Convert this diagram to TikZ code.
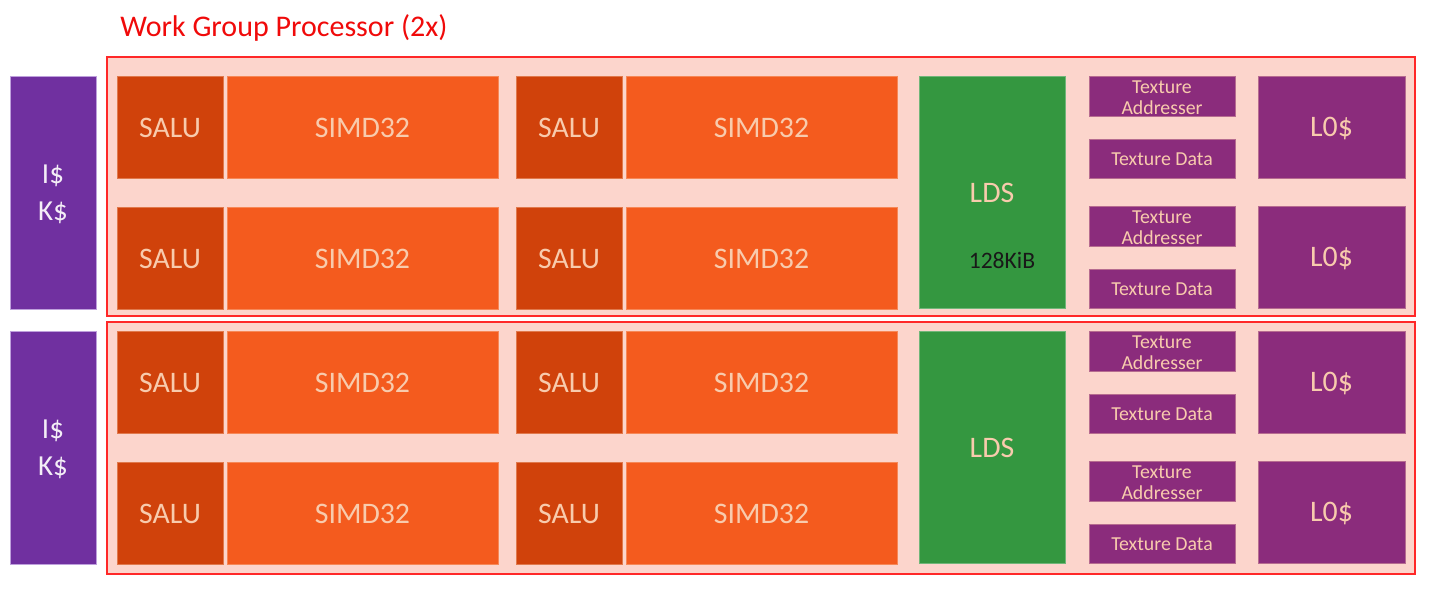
\documentclass[tikz,border=0pt]{standalone}
\usepackage{fontspec}
\setmainfont{Carlito}
\definecolor{salu}{RGB}{208,66,11}
\definecolor{simd}{RGB}{244,91,30}
\definecolor{peach}{RGB}{248,203,173}
\definecolor{ikpurple}{RGB}{112,48,160}
\definecolor{lpurple}{RGB}{139,44,124}
\definecolor{ldsgreen}{RGB}{52,151,64}
\definecolor{framefill}{RGB}{252,213,204}
\definecolor{framered}{RGB}{255,40,40}
\definecolor{titlered}{RGB}{240,10,10}
\definecolor{ikedge}{RGB}{190,160,220}
\begin{document}
\begin{tikzpicture}[x=0.5pt,y=-0.5pt,
  bigtxt/.style={font=\fontsize{14.9}{16}\selectfont},
  smalltxt/.style={font=\fontsize{9.9}{10.6}\selectfont},
  frame/.style={draw=framered,fill=framefill,line width=0.9pt}]
\useasboundingbox (0,0) rectangle (1438,597);
\fill[white] (0,0) rectangle (1438,597);
\node[text=titlered,anchor=base west,inner sep=0pt,font=\fontsize{15}{18}\selectfont] (title) at (120,37) {Work Group Processor (2x)};
\draw[frame] (107,57) rectangle (1415,316);
\draw[frame] (107,322) rectangle (1415,574);
\foreach \o/\n in {0/a,255/b}{
  \begin{scope}[yshift=-\o*0.5pt]
  \path[fill=ikpurple,draw=ikedge,line width=0.4pt] (10,76) rectangle (96,309);
  \node[text=white!92!ikpurple,align=center,font=\fontsize{14.5}{18.5}\selectfont] (ik\n) at (53,194) {I\$\\K\$};
  \foreach \y/\r in {76/1,207/2}{
    \foreach \x/\c in {117/1,516/2}{
      \path[fill=salu,draw=salu!60!peach,line width=0.4pt] (\x,\y) rectangle ++(106,102);
      \node[text=peach,bigtxt] (salu\n\r\c) at (\x+53,\y+52) {SALU};
      \path[fill=simd,draw=simd!60!peach,line width=0.4pt] (\x+110,\y) rectangle ++(271,102);
      \node[text=peach,bigtxt] (simd\n\r\c) at (\x+245.5,\y+52) {SIMD32};
    }
  }
  \path[fill=ldsgreen,draw=ldsgreen!70!white,line width=0.4pt] (919,76) rectangle (1065,308);
  \foreach \y/\r in {76/1,206/2}{
    \path[fill=lpurple,draw=lpurple!60!peach,line width=0.4pt] (1089,\y) rectangle ++(146,40);
    \node[text=peach,smalltxt,align=center,inner sep=0pt] (ta\n\r) at (1162,\y+22) {Texture\\Addresser};
    \path[fill=lpurple,draw=lpurple!60!peach,line width=0.4pt] (1089,\y+63) rectangle ++(146,39);
    \node[text=peach,smalltxt] (td\n\r) at (1162,\y+83.5) {Texture Data};
    \path[fill=lpurple,draw=lpurple!60!peach,line width=0.4pt] (1258,\y) rectangle ++(147,102);
    \node[text=peach,bigtxt] (l\n\r) at (1331.5,\y+52) {L0\$};
  }
  \end{scope}
}
\node[text=peach,bigtxt] (ldsa) at (992,193) {LDS};
\node[text=black!90,font=\fontsize{11.8}{14}\selectfont] (kib) at (1002,260) {128KiB};
\node[text=peach,bigtxt] (ldsb) at (992,448) {LDS};
\end{tikzpicture}
\end{document}
